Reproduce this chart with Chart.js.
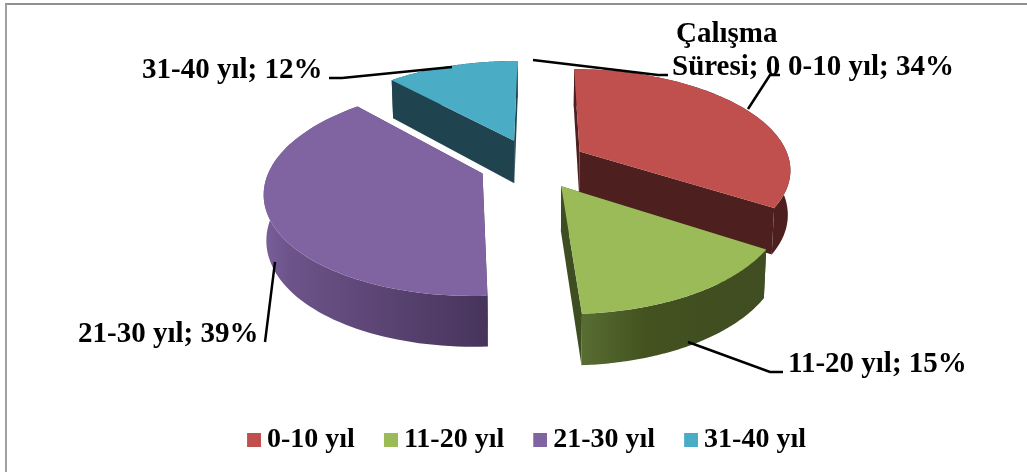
<!DOCTYPE html>
<html>
<head>
<meta charset="utf-8">
<script src="https://cdn.jsdelivr.net/npm/chart.js@4"></script>
<style>
  html, body { margin: 0; padding: 0; background: #fff; overflow: hidden; }
  #frame { position: absolute; left: 5px; top: 3px; width: 1030px; height: 480px;
           border-left: 2px solid #a0a0a0; border-top: 2px solid #909090; }
  #chart { position: absolute; left: 0; top: 0; }
</style>
</head>
<body>
<div id="frame"></div>
<canvas id="chart" width="1027" height="472"></canvas>
<script>
// Chart data
const categories = ['0-10 yıl', '11-20 yıl', '21-30 yıl', '31-40 yıl'];
const values = [34, 15, 39, 12];
const seriesLabelLines = ['Çalışma', 'Süresi; 0'];

// Slice styling
const topColors = ['#C0504D', '#9BBB59', '#8064A2', '#4BACC6'];
const edgeColors = ['#4D1F1E', '#3F4D22', '#3F2F52', '#20444F'];
const wallStops = [
  [[0, '#4D1F1E'], [1, '#4D1F1E']],
  [[0, '#586D32'], [0.35, '#43521F'], [1, '#3F4D22']],
  [[0, '#7A5F9A'], [0.12, '#6C5389'], [1, '#47345B']],
  [[0, '#20444F'], [1, '#20444F']]
];
const drawOrder = [3, 2, 0, 1]; // back to front

// Data label placement, one per category, then the series label
const labelFont = 'bold 29px "Liberation Serif"';
const labelSpots = [[788, 75], [788, 372], [78, 342], [142, 78]];
const seriesLabelSpots = [[676, 42], [672, 75]];
const leaders = [
  [[748, 109], [770, 75], [780, 75]],
  [[688, 342], [770, 372], [783, 372]],
  [[275, 262], [265, 342]],
  [[452, 67], [342, 78], [329, 78]],
  [[533, 60], [658, 75], [668, 75]]
];

// Look of the tilted pie
const tilt = { squash: 0.47, perspective: 0.16, depth: 44, depthGrow: 0.14, shrink: 0.99, shiftX: 4.5, shiftY: -33 };

function point3d(arc, px, py, lowered) {
  const R = arc.outerRadius;
  const near = py / R;
  const s = 1 / (1 - tilt.perspective * near);
  const cx = arc.x + tilt.shiftX;
  const cy = arc.y + tilt.shiftY;
  if (!lowered) return [cx + px * s, cy + tilt.squash * py * s];
  return [cx + px * s * tilt.shrink,
          cy + tilt.squash * py * s + tilt.depth * (1 + tilt.depthGrow * near)];
}

function rimPoints(arc, lowered) {
  const mid = (arc.startAngle + arc.endAngle) / 2;
  const off = arc.options.offset || 0;
  const ox = Math.cos(mid) * off;
  const oy = Math.sin(mid) * off;
  const pts = [];
  const steps = 80;
  for (let i = 0; i <= steps; i++) {
    const a = arc.startAngle + (arc.endAngle - arc.startAngle) * i / steps;
    pts.push(point3d(arc, ox + Math.cos(a) * arc.outerRadius, oy + Math.sin(a) * arc.outerRadius, lowered));
  }
  return { pts, apex: point3d(arc, ox, oy, lowered) };
}

function fillPath(ctx, pts, fill) {
  ctx.beginPath();
  pts.forEach((p, i) => (i ? ctx.lineTo(p[0], p[1]) : ctx.moveTo(p[0], p[1])));
  ctx.closePath();
  ctx.fillStyle = fill;
  ctx.fill();
}

function drawSlice(ctx, arc, index) {
  const top = rimPoints(arc, false);
  const low = rimPoints(arc, true);
  const first = 0;
  const last = top.pts.length - 1;

  // flat cut faces of the slice
  fillPath(ctx, [top.apex, low.apex, low.pts[first], top.pts[first]], edgeColors[index]);
  fillPath(ctx, [top.apex, low.apex, low.pts[last], top.pts[last]], edgeColors[index]);

  // curved outer wall
  const xs = top.pts.map(p => p[0]);
  const grad = ctx.createLinearGradient(Math.min(...xs), 0, Math.max(...xs), 0);
  wallStops[index].forEach(s => grad.addColorStop(s[0], s[1]));
  fillPath(ctx, top.pts.concat(low.pts.slice().reverse()), grad);

  // top face
  fillPath(ctx, [top.apex].concat(top.pts), topColors[index]);
}

const tiltedPie = {
  id: 'tiltedPie',
  beforeDatasetsDraw(chart) {
    const ctx = chart.ctx;
    const arcs = chart.getDatasetMeta(0).data;
    drawOrder.forEach(i => drawSlice(ctx, arcs[i], i));
    return false; // the flat arcs are replaced by the tilted ones
  },
  afterDraw(chart) {
    const ctx = chart.ctx;
    ctx.save();
    ctx.strokeStyle = '#000';
    ctx.lineWidth = 2.5;
    leaders.forEach(line => {
      ctx.beginPath();
      line.forEach((p, i) => (i ? ctx.lineTo(p[0], p[1]) : ctx.moveTo(p[0], p[1])));
      ctx.stroke();
    });
    ctx.fillStyle = '#000';
    ctx.font = labelFont;
    ctx.textBaseline = 'alphabetic';
    categories.forEach((name, i) => {
      ctx.fillText(name + '; ' + values[i] + '%', labelSpots[i][0], labelSpots[i][1]);
    });
    seriesLabelLines.forEach((line, i) => {
      ctx.fillText(line, seriesLabelSpots[i][0], seriesLabelSpots[i][1]);
    });
    ctx.restore();
  }
};

// Legend swatch is an image so it keeps its own size next to the tight text gap
function legendItems() {
  return categories.map((name, i) => {
    const box = document.createElement('canvas');
    box.width = 18;
    box.height = 14;
    const c = box.getContext('2d');
    c.fillStyle = topColors[i];
    c.fillRect(4, 0, 14, 14);
    return { text: name, pointStyle: box, fontColor: '#000', hidden: false, index: i };
  });
}

new Chart(document.getElementById('chart'), {
  type: 'pie',
  data: {
    labels: categories,
    datasets: [{
      data: values,
      backgroundColor: topColors,
      borderWidth: 0,
      offset: 54
    }]
  },
  plugins: [tiltedPie],
  options: {
    responsive: false,
    animation: false,
    radius: 211,
    rotation: 0.3,
    layout: { padding: { left: 30, right: 0, top: 0, bottom: 8 } },
    plugins: {
      tooltip: { enabled: false },
      legend: {
        position: 'bottom',
        labels: {
          usePointStyle: true,
          pointStyleWidth: 2,
          padding: 33,
          color: '#000',
          font: { family: '"Liberation Serif"', size: 28, weight: 'bold' },
          generateLabels: legendItems
        }
      }
    }
  }
});
</script>
</body>
</html>
